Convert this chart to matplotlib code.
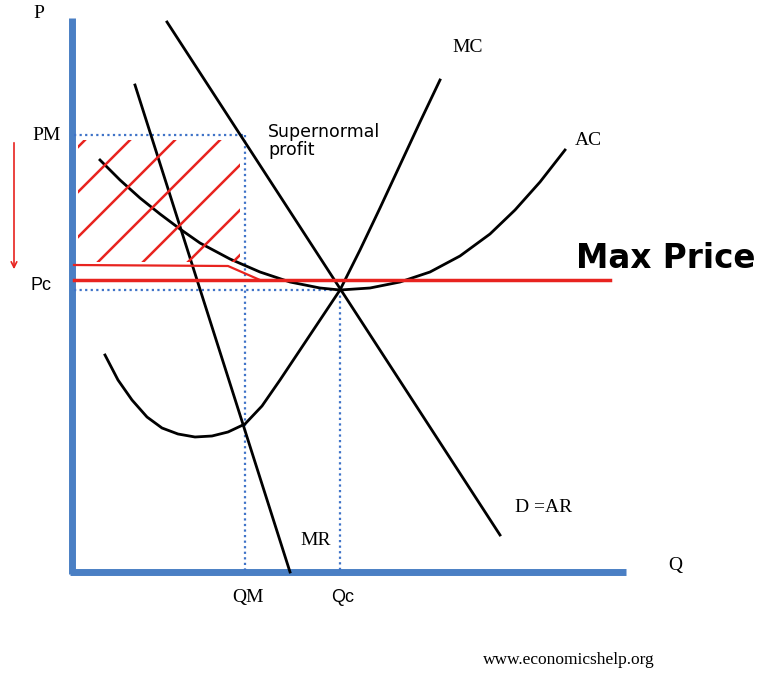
import matplotlib
matplotlib.use("Agg")
import matplotlib.pyplot as plt
import numpy as np
from matplotlib.patches import Rectangle

# curve points (pixel-like coordinates, y downward)
d_x = [167, 500]; d_y = [22, 535]
mr_x = [135, 290]; mr_y = [85, 572]
mc_x = [105, 118, 132, 147, 162, 178, 195, 212, 228, 245, 262, 280, 300, 320, 340, 360, 380, 400, 420, 440]
mc_y = [355, 380, 400, 417, 428, 434, 437, 436, 432, 424, 406, 380, 350, 320, 290, 250, 208, 165, 122, 80]
ac_x = [100, 120, 140, 160, 180, 200, 230, 260, 290, 320, 340, 370, 400, 430, 460, 490, 515, 540, 565]
ac_y = [160, 180, 198, 214, 229, 243, 259, 272, 282, 288, 290, 288, 282, 272, 256, 234, 210, 182, 150]
hatch_c = [225, 270, 315, 360, 405, 450, 495]

fig = plt.figure(figsize=(7.68, 6.86), dpi=100)
ax = fig.add_axes([0, 0, 1, 1])
ax.set_xlim(0, 768); ax.set_ylim(686, 0); ax.axis('off')

blue = '#4a7fc4'
ax.plot([72, 72], [18, 574], color=blue, lw=5, solid_capstyle='butt')
ax.plot([70, 626], [572, 572], color=blue, lw=5, solid_capstyle='butt')

dot = dict(color='#3f73c8', lw=1.6, ls=(0, (1, 1.5)))
ax.plot([74, 245], [135, 135], **dot)
ax.plot([245, 245], [135, 570], **dot)
ax.plot([74, 340], [290, 290], **dot)
ax.plot([340, 340], [290, 570], **dot)

k = dict(color='black', lw=2)
ax.plot(d_x, d_y, **k)
ax.plot(mr_x, mr_y, **k)
ax.plot(mc_x, mc_y, **k)
ax.plot(ac_x, ac_y, **k)

red = '#e8231f'
clip = Rectangle((78, 140), 162, 122, transform=ax.transData, fill=False, lw=0)
ax.add_patch(clip)
xs = np.array([0, 768])
for c in hatch_c:
    ln, = ax.plot(xs, c - xs, color=red, lw=1.8)
    ln.set_clip_path(clip)
ax.plot([74, 228, 260], [265, 266, 280], color=red, lw=1.6)
ax.plot([74, 610], [280, 280], color=red, lw=2.5)
ax.annotate('', xy=(14, 272), xytext=(14, 140),
            arrowprops=dict(arrowstyle='->', color=red, lw=1.2))

serif = 'Liberation Serif'
t = dict(family=serif, fontsize=14, color='black')
ax.text(33, 18, 'P', **t)
ax.text(32, 140, 'PM', **t)
ax.text(30, 290, 'Pc', family='Liberation Sans', fontsize=13)
ax.text(232, 602, 'QM', **t)
ax.text(331, 602, 'Qc', family='Liberation Sans', fontsize=13)
ax.text(668, 570, 'Q', **t)
ax.text(452, 52, 'MC', **t)
ax.text(575, 145, 'AC', **t)
ax.text(515, 512, 'D =AR', **t)
ax.text(300, 545, 'MR', **t)
ax.text(268, 155, 'Supernormal\nprofit', family='DejaVu Sans', fontsize=12.5, linespacing=1.0)
ax.text(576, 268, 'Max Price', family='DejaVu Sans', fontsize=23.5, fontweight='bold')
ax.text(483, 664, 'www.economicshelp.org', family=serif, fontsize=12.5)

fig.savefig('out.png', dpi=100)
